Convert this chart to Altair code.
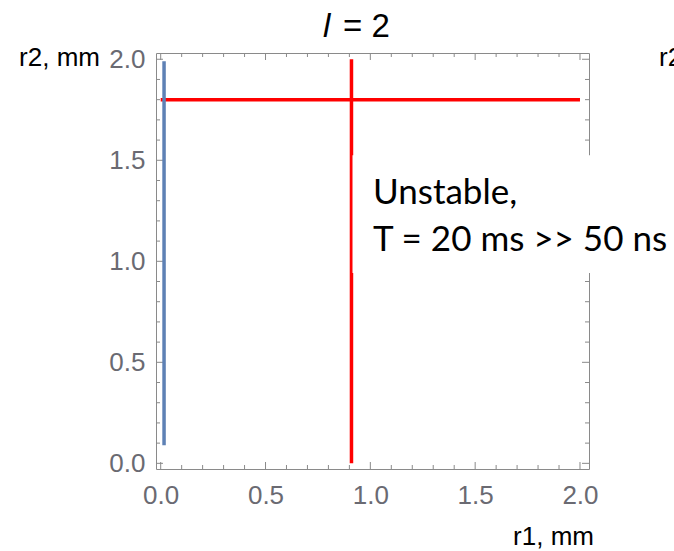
import altair as alt
import pandas as pd

# ---- data ----
seg_x = [0.0, 0.91, 0.016]        # segment start x
seg_x2 = [2.0, 0.91, 0.016]       # segment end x
seg_y = [1.8, 0.0, 0.09]          # segment start y
seg_y2 = [1.8, 2.0, 1.99]         # segment end y
seg_color = ["#ff0000", "#ff0000", "#5e81b5"]

major_ticks = [0.0, 0.5, 1.0, 1.5, 2.0]
minor_ticks = [0.1, 0.2, 0.3, 0.4, 0.6, 0.7, 0.8, 0.9, 1.1, 1.2, 1.3, 1.4,
               1.6, 1.7, 1.8, 1.9]

title_italic = "l"
title_rest = "= 2"
y_title = "r2, mm"
x_title = "r1, mm"
note_lines = ["Unstable,", "T = 20 ms >> 50 ns"]

W, H = 433, 416
XDOM = [-0.0224, 2.043]
YDOM = [-0.028, 2.031]
FRAME = "#8a8a8a"
LABEL = "#6a6a72"
FONT = "Liberation Sans"

xs = alt.Scale(domain=XDOM, nice=False, zero=False)
ys = alt.Scale(domain=YDOM, nice=False, zero=False)
xaxis = alt.Axis(values=major_ticks, format=".1f", title=None, grid=False,
                 domain=False, ticks=False, tickSize=0, labelPadding=13,
                 labelFont=FONT, labelFontSize=26, labelColor=LABEL)
yaxis = alt.Axis(values=major_ticks, format=".1f", title=None, grid=False,
                 domain=False, ticks=False, tickSize=0, labelPadding=11,
                 labelFont=FONT, labelFontSize=26, labelColor=LABEL)

df_major = pd.DataFrame({"v": major_ticks})
df_minor = pd.DataFrame({"v": minor_ticks})
segs = pd.DataFrame({"x": seg_x, "x2": seg_x2, "y": seg_y, "y2": seg_y2, "c": seg_color})

layers = []
for df, ln in ((df_major, 7), (df_minor, 4)):
    base = alt.Chart(df).mark_rule(color=FRAME, strokeWidth=1)
    layers.append(base.encode(x=alt.X("v:Q", scale=xs, axis=xaxis),
                              y=alt.value(H), y2=alt.value(H - ln)))
    layers.append(base.encode(x=alt.X("v:Q", scale=xs, axis=xaxis),
                              y=alt.value(0), y2=alt.value(ln)))
    layers.append(base.encode(y=alt.Y("v:Q", scale=ys, axis=yaxis),
                              x=alt.value(0), x2=alt.value(ln)))
    layers.append(base.encode(y=alt.Y("v:Q", scale=ys, axis=yaxis),
                              x=alt.value(W), x2=alt.value(W - ln)))

lines = alt.Chart(segs).mark_rule(strokeWidth=3.5).encode(
    x=alt.X("x:Q", scale=xs, axis=xaxis),
    x2="x2:Q",
    y=alt.Y("y:Q", scale=ys, axis=yaxis),
    y2="y2:Q",
    color=alt.Color("c:N", scale=None),
)
layers.append(lines)

box = alt.Chart(pd.DataFrame({"a": [1]})).mark_rect(color="white").encode(
    x=alt.value(196.5), x2=alt.value(540), y=alt.value(102.3), y2=alt.value(220)
)
layers.append(box)

def txt(s, x, y, size, font, color="black", style="normal", align="left"):
    return alt.Chart(pd.DataFrame({"t": [s]})).mark_text(
        font=font, fontSize=size, color=color, fontStyle=style, align=align,
        baseline="alphabetic"
    ).encode(x=alt.value(x), y=alt.value(y), text="t:N")

layers.append(txt(note_lines[0], 217, 150.5, 35, "Lato"))
layers.append(txt(note_lines[1], 217, 197.5, 35, "Lato"))
layers.append(txt(title_italic, 167, -16, 33, FONT, style="italic"))
layers.append(txt(title_rest, 187, -16, 33, FONT))
layers.append(txt(y_title, -56, 13, 26, FONT, align="right"))
layers.append(txt(y_title, 503, 13, 26, FONT))
layers.append(txt(x_title, 438, 492, 26, FONT, align="right"))

chart = alt.layer(*layers).properties(
    width=W, height=H,
    autosize=alt.AutoSizeParams(type="none"),
    padding={"left": 156, "top": 53, "right": 85, "bottom": 82},
    background="white",
).configure_view(stroke=FRAME, strokeWidth=1)

chart.save("out.html", embed_options={"renderer": "svg", "actions": False})
